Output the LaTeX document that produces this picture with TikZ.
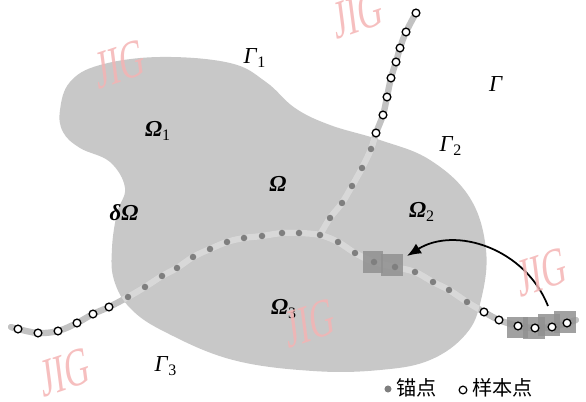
\documentclass[tikz,border=0pt]{standalone}
\usepackage{fontspec}
\setmainfont{Liberation Serif}
\newfontfamily\cjk{Noto Sans CJK SC}
\usetikzlibrary{positioning,arrows.meta}

\definecolor{regiongray}{HTML}{C8C8C8}
\definecolor{pathout}{HTML}{C2C2C2}
\definecolor{pathin}{HTML}{D8D8D8}
\definecolor{anchorgray}{HTML}{7F7F7F}
\definecolor{patchgray}{HTML}{909090}
\definecolor{markpink}{HTML}{F4B4B4}

\tikzset{
  lbl/.style={font=\fontsize{13}{15}\selectfont, inner sep=0pt},
  curveline/.style={line width=3.6pt, line cap=round, line join=round},
  patch/.style={fill=patchgray, fill opacity=0.85},
  wmark/.style={text=markpink, font=\fontsize{31}{31}\selectfont, xscale=0.62, rotate=12, text opacity=0.85, inner sep=0pt},
  legtext/.style={font=\cjk\fontsize{11.5}{13}\selectfont, inner sep=0pt}
}

\newcommand{\OmB}{\textbf{\textit{Ω}}}

\begin{document}
\begin{tikzpicture}[x=0.02cm,y=-0.02cm]
\useasboundingbox (0,0) rectangle (586,402);

\fill[regiongray, save path=\regionpath] plot[smooth cycle, tension=0.65] coordinates {
  (60,110) (70,82) (100,65) (160,57) (230,63) (266,82) (295,108)
  (330,125) (380,140) (430,160) (470,198) (486,250) (481,300) (466,334) (430,360)
  (380,370) (313,371) (233,360) (167,333) (131,309) (114,280) (112,248)
  (117,213) (125,188) (110,162) (80,148) (63,132)};

\draw[pathout, curveline, save path=\mainline] plot[smooth, tension=0.6] coordinates {
  (11,327) (18,329) (38,333) (58,331) (77,323) (93,314) (109,307)
  (128,297) (145,287) (162,276) (177,268) (193,257) (210,249) (227,242)
  (244,238) (262,236) (282,233) (299,233) (320,235) (338,242) (355,253)
  (374,262) (395,267) (415,272) (433,282) (449,290) (467,302)
  (484,312) (499,320) (518,326) (535,328) (552,327) (567,323) (576,320)};
\draw[pathout, curveline, save path=\branchline] plot[smooth, tension=0.6] coordinates {
  (320,235) (330,218) (342,203) (352,186) (362,168) (371,149)
  (376,133) (383,115) (387,97) (391,78) (396,62) (400,48) (406,32) (416,13)};

\begin{scope}
\clip[use path=\regionpath];
\draw[pathin, curveline, use path=\mainline];
\draw[pathin, curveline, use path=\branchline];
\end{scope}

\fill[patch] (363,251) rectangle (383,273);
\fill[patch] (381,254) rectangle (403,276);
\fill[patch] (507,317) rectangle (528,338);
\fill[patch] (523,317) rectangle (545,339);
\fill[patch] (538,314) rectangle (560,336);
\fill[patch] (554,311) rectangle (576,333);

\foreach \p in {(128,297),(145,287),(162,276),(177,268),(193,257),(210,249),
  (227,242),(244,238),(262,236),(282,233),(299,233),(320,235),(338,242),
  (355,253),(374,262),(395,267),(415,272),(433,282),(449,290),(467,302),
  (330,218),(342,203),(352,186),(362,168),(371,149)}
  \fill[anchorgray] \p circle (1.85pt);

\foreach \p in {(18,329),(38,333),(58,331),(77,323),(93,314),(109,307),
  (484,312),(499,320),(518,326),(535,328),(552,327),(567,323),
  (376,133),(383,115),(387,97),(391,78),(396,62),(400,48),(406,32),(416,13)}
  \filldraw[fill=white, draw=black, line width=0.75pt] \p circle (2.2pt);

\coordinate (tailpt) at (548,306);
\coordinate (headpt) at (407,256);
\draw[-{Latex[length=8pt,width=6.5pt]}, line width=1pt] (tailpt) .. controls (525,248) and (455,226) .. (headpt);

\node[lbl] (gamma1) at (255,58) {\textit{Γ}\textsubscript{1}};
\node[lbl] (gamma2) at (451,146) {\textit{Γ}\textsubscript{2}};
\node[lbl] (gamma3) at (166,366) {\textit{Γ}\textsubscript{3}};
\node[lbl] (gamma) at (496,84) {\textit{Γ}};
\node[lbl] (omega1) at (158,131) {\OmB\textsubscript{1}};
\node[lbl] (omega2) at (422,212) {\OmB\textsubscript{2}};
\node[lbl] (omega3) at (284,309) {\OmB\textsubscript{3}};
\node[lbl] (omega) at (278,184) {\OmB};
\node[lbl] (boundary) at (124,213) {\textbf{\textit{δΩ}}};

\fill[anchorgray] (388,389) coordinate (legdot) circle (2pt);
\node[legtext, anchor=west] (anchortxt) at (396,388) {锚点};
\filldraw[fill=white, draw=black, line width=0.7pt] (463,390) coordinate (legcirc) circle (2.2pt);
\node[legtext, anchor=west] (sampletxt) at (472,388) {样本点};

\node[wmark] (wm1) at (120,64) {JIG};
\node[wmark] (wm2) at (358,14) {JIG};
\node[wmark] (wm3) at (65,372) {JIG};
\node[wmark] (wm4) at (310,323) {JIG};
\node[wmark] (wm5) at (542,272) {JIG};

\end{tikzpicture}
\end{document}
